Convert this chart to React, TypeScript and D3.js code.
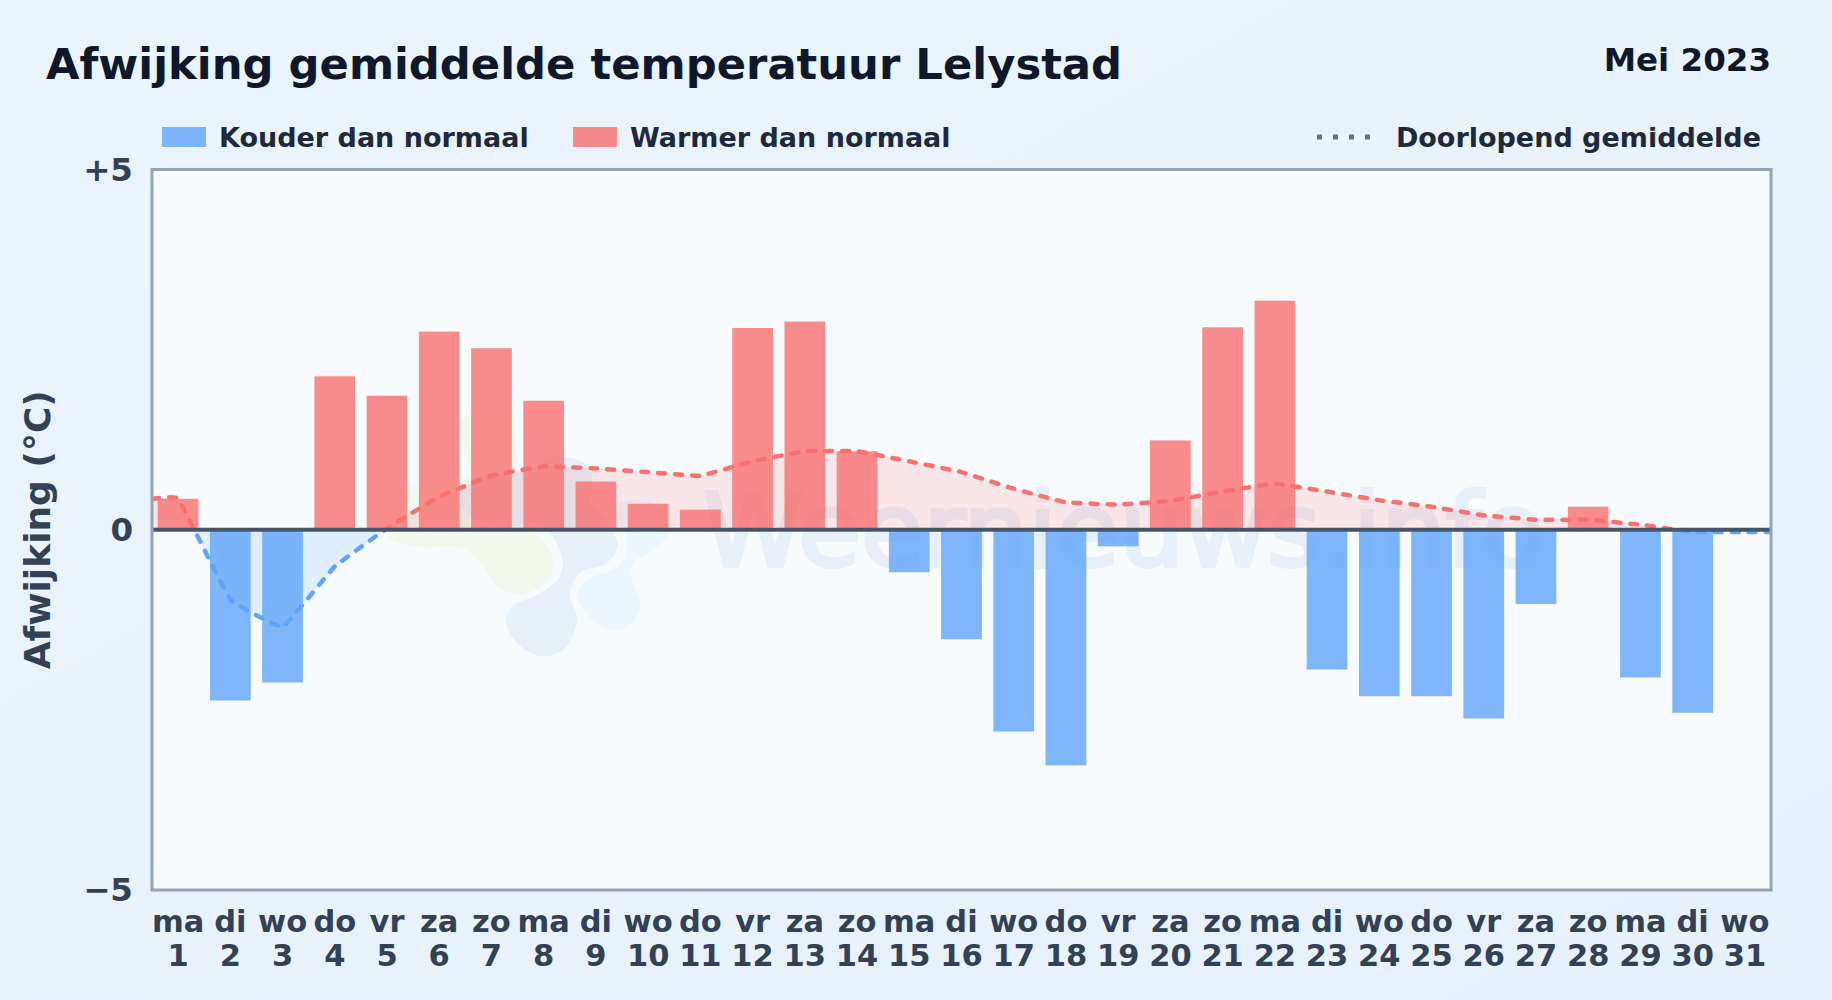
import React from 'react';
import * as d3 from 'd3';

const weekdays = ['ma','di','wo','do','vr','za','zo','ma','di','wo','do','vr','za','zo','ma','di','wo','do','vr','za','zo','ma','di','wo','do','vr','za','zo','ma','di','wo'];
const days = d3.range(1, 32);
const deviation = [0.43,-2.37,-2.12,2.13,1.86,2.75,2.52,1.79,0.67,0.36,0.28,2.80,2.89,1.09,-0.59,-1.52,-2.80,-3.27,-0.23,1.24,2.81,3.18,-1.94,-2.31,-2.31,-2.62,-1.03,0.32,-2.05,-2.54,0];
const runningMean = [0.43,-0.97,-1.35,-0.51,0.02,0.46,0.75,0.88,0.85,0.80,0.75,0.95,1.09,1.09,0.95,0.80,0.57,0.38,0.35,0.40,0.53,0.64,0.53,0.41,0.32,0.20,0.14,0.14,0.07,-0.03,-0.03];
const yTicks = [5, 0, -5];

// watermark logo outlines, page pixels
const logoGreen: [number, number][] = [[463,418],[493,418],[515,437],[512,467],[467,475],[443,487],[407,488],[383,507],[388,537],[420,547],[460,547],[480,563],[500,588],[527,593],[550,577],[552,557],[540,537],[520,523],[490,500],[470,470]];
const logoBlue: [number, number][] = [[567,457],[587,465],[593,483],[590,500],[613,530],[617,547],[607,563],[580,573],[570,593],[577,620],[563,650],[540,656],[517,643],[506,623],[513,605],[533,597],[557,580],[563,563],[550,533],[533,523],[507,527],[467,513],[460,497],[470,480],[507,473],[537,470],[550,458]];
const logoLight: [number, number][] = [[627,500],[660,507],[670,530],[653,550],[633,563],[632,580],[640,607],[627,627],[603,627],[582,607],[578,590],[593,577],[617,567],[627,547],[623,527],[607,510]];

const W = 1832;
const H = 1000;
const plot = { left: 152, right: 1771, top: 169.5, bottom: 890 };
const FONT = '"DejaVu Sans", sans-serif';
const BLUE = '#60a5fa';
const RED = '#f87171';

const App: React.FC = () => {
  const x = d3.scaleBand<number>().domain(days).range([plot.left, plot.right]).paddingInner(0.22).paddingOuter(0.11);
  const y = d3.scaleLinear().domain([-5, 5]).range([plot.bottom, plot.top]);
  const zero = y(0);
  const cx = (d: number) => (x(d) ?? 0) + x.bandwidth() / 2;

  // running mean runs on to both plot edges
  const linePts: [number, number][] = [
    [plot.left, runningMean[0]],
    ...runningMean.map((v, i): [number, number] => [cx(days[i]), v]),
    [plot.right, runningMean[30]],
  ];
  const curve = d3.curveCardinal.tension(0.8);
  const line = d3.line<[number, number]>().x(d => d[0]).y(d => y(d[1])).curve(curve);
  const area = d3.area<[number, number]>().x(d => d[0]).y0(zero).y1(d => y(d[1])).curve(curve);
  const blob = d3.line().curve(d3.curveCatmullRomClosed);
  const linePath = line(linePts) ?? '';
  const areaPath = area(linePts) ?? '';

  return (
    <svg width={W} height={H} viewBox={`0 0 ${W} ${H}`} style={{ position: 'fixed', left: 0, top: 0 }} fontFamily={FONT}>
      <defs>
        <linearGradient id="bg" x1="0" y1="0" x2="1" y2="1">
          <stop offset="0" stopColor="#e9f4fc" />
          <stop offset="1" stopColor="#e7f1fb" />
        </linearGradient>
        <clipPath id="above"><rect x={plot.left} y={plot.top} width={plot.right - plot.left} height={zero - plot.top} /></clipPath>
        <clipPath id="below"><rect x={plot.left} y={zero} width={plot.right - plot.left} height={plot.bottom - zero} /></clipPath>
      </defs>
      <rect width={W} height={H} fill="url(#bg)" />
      <rect x={plot.left} y={plot.top} width={plot.right - plot.left} height={plot.bottom - plot.top} fill="#f8fbfe" />

      {/* watermark */}
      <g>
        <path d={blob(logoGreen) ?? ''} fill="#f2f8ec" />
        <path d={blob(logoBlue) ?? ''} fill="#e7f0f9" />
        <path d={blob(logoLight) ?? ''} fill="#ecf6fe" />
        <text x={703} y={566} fontSize={102} fill="#e7eff9" stroke="#e7eff9" strokeWidth={4}>Weernieuws.info</text>
      </g>

      <path d={areaPath} clipPath="url(#above)" fill={RED} opacity={0.15} />
      <path d={areaPath} clipPath="url(#below)" fill={BLUE} opacity={0.15} />

      {deviation.map((v, i) => v === 0 ? null : (
        <rect key={i} x={x(days[i])} width={x.bandwidth()} y={Math.min(y(v), zero)} height={Math.abs(y(v) - zero)}
          fill={v > 0 ? RED : BLUE} opacity={0.8} />
      ))}

      <path d={linePath} clipPath="url(#above)" fill="none" stroke={RED} strokeWidth={4.5} strokeDasharray="7 10" strokeLinecap="round" />
      <path d={linePath} clipPath="url(#below)" fill="none" stroke={BLUE} strokeWidth={4.5} strokeDasharray="7 10" strokeLinecap="round" />

      <line x1={plot.left} x2={plot.right} y1={zero} y2={zero} stroke="#475569" strokeWidth={4} />
      <rect x={plot.left} y={plot.top} width={plot.right - plot.left} height={plot.bottom - plot.top} fill="none" stroke="#94a3b8" strokeWidth={3} />

      {yTicks.map(t => (
        <text key={t} x={133} y={y(t)} textAnchor="end" dominantBaseline="central" fontSize={32.5} fontWeight={700} fill="#334155">
          {t > 0 ? `+${t}` : t < 0 ? `\u2212${-t}` : '0'}
        </text>
      ))}
      {days.map((d, i) => (
        <text key={d} x={cx(d)} textAnchor="middle" fontSize={30.5} fontWeight={700} fill="#334155">
          <tspan x={cx(d)} y={932}>{weekdays[i]}</tspan>
          <tspan x={cx(d)} y={966}>{d}</tspan>
        </text>
      ))}
      <text transform={`translate(50,${zero}) rotate(-90)`} textAnchor="middle" fontSize={36} fontWeight={700} fill="#334155">Afwijking (°C)</text>

      <text x={46} y={79} fontSize={43.3} fontWeight={700} fill="#0f172a">Afwijking gemiddelde temperatuur Lelystad</text>
      <text x={1771} y={71} textAnchor="end" fontSize={32.5} fontWeight={700} fill="#0f172a">Mei 2023</text>

      <rect x={162} y={127} width={44} height={20} fill={BLUE} opacity={0.8} />
      <text x={219} y={147} fontSize={27} fontWeight={700} fill="#1e293b">Kouder dan normaal</text>
      <rect x={573} y={127} width={44} height={20} fill={RED} opacity={0.8} />
      <text x={630} y={147} fontSize={27} fontWeight={700} fill="#1e293b">Warmer dan normaal</text>
      <line x1={1317} x2={1376} y1={137} y2={137} stroke="#64748b" strokeWidth={5} strokeDasharray="5 11" />
      <text x={1761} y={147} textAnchor="end" fontSize={27} fontWeight={700} fill="#1e293b">Doorlopend gemiddelde</text>
    </svg>
  );
};

export default App;
